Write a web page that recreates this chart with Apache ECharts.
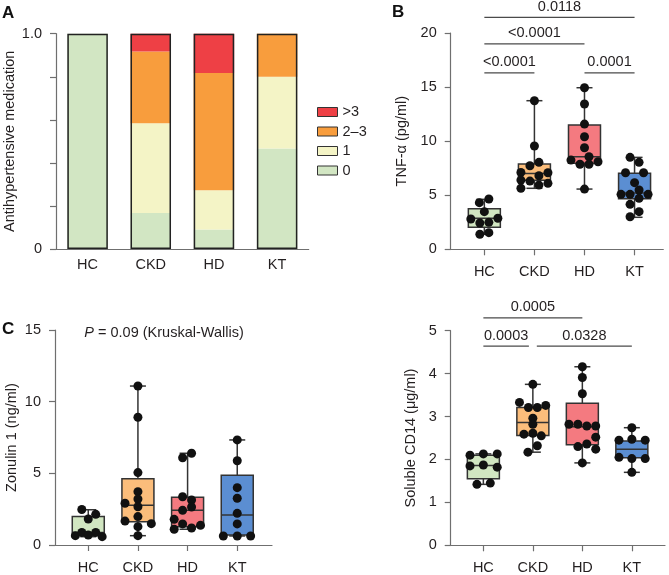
<!DOCTYPE html>
<html lang="en">
<head>
<meta charset="UTF-8">
<title>Antihypertensive medication, TNF-α, zonulin 1 and soluble CD14</title>
<script src="https://cdn.jsdelivr.net/npm/echarts@6/dist/echarts.min.js"></script>
<style>
html, body { margin: 0; padding: 0; background: #fff; }
#chart { width: 669px; height: 575px; }
</style>
</head>
<body>
<div id="chart"></div>
<script type="text/javascript">
var groups = ['HC', 'CKD', 'HD', 'KT'];
var groupTicks = [0, 1, 2, 3];

// A: share of patients by number of antihypertensive drugs
var med0 = [1.0, 0.167, 0.091, 0.467];
var med1 = [0, 0.417, 0.182, 0.333];
var med23 = [0, 0.333, 0.545, 0.2];
var med3 = [0, 0.083, 0.182, 0];
var medLegend = ['>3', '2–3', '1', '0'];

// B: TNF-alpha (pg/ml). boxes = [min, q1, median, q3, max], dots = [x offset, value]
var tnfBox = [[1.39, 2.03, 2.87, 3.75, 4.62], [5.64, 6.38, 7.02, 7.88, 13.74], [5.57, 7.95, 8.56, 11.5, 14.94], [2.96, 4.68, 5.2, 7.03, 8.5]];
var tnfHC = [[0.09, 4.65], [-0.1, 4.31], [0, 3.48], [-0.27, 2.8], [0.27, 2.87], [-0.09, 2.43], [0.09, 2.49], [-0.09, 1.39], [0.09, 1.54]];
var tnfCKD = [[0, 13.74], [0, 9.55], [-0.09, 7.73], [0.09, 8.04], [-0.27, 7.11], [0.27, 7.08], [0.09, 6.8], [-0.27, 6.4], [-0.09, 6.31], [0.27, 6.1], [0.09, 5.94], [-0.27, 5.64]];
var tnfHD = [[0, 14.94], [0, 13.43], [0, 11.58], [0, 10.41], [0, 9.39], [0.09, 8.56], [-0.27, 8.25], [0.27, 8.1], [-0.09, 7.86], [0.09, 7.86], [0, 5.57]];
var tnfKT = [[-0.09, 8.5], [0.09, 8.04], [-0.18, 7.08], [0.18, 7.08], [0, 6.16], [0.09, 5.48], [-0.27, 5.08], [-0.09, 5.08], [0.27, 5.08], [0.09, 4.71], [-0.09, 4.16], [0.09, 3.48], [-0.09, 3.01]];
var tnfPairs = [[0, 3], [0, 2], [0, 1], [2, 3]];
var tnfLevels = [21.45, 19.0, 16.32, 16.32];
var tnfP = ['0.0118', '<0.0001', '<0.0001', '0.0001'];

// C: zonulin 1 (ng/ml)
var zonBox = [[0.58, 0.66, 0.88, 1.98, 2.46], [0.65, 1.63, 2.77, 4.63, 11.09], [1.1, 1.28, 2.42, 3.33, 6.4], [0.63, 0.7, 2.09, 4.86, 7.33]];
var zonHC = [[-0.13, 2.48], [0.15, 2.14], [0, 1.81], [-0.26, 0.65], [-0.13, 0.88], [0, 0.7], [0.15, 0.88], [0.28, 0.58]];
var zonCKD = [[0, 11.09], [0, 8.91], [0, 5.05], [0, 3.72], [0, 3.21], [-0.26, 2.91], [0, 2.67], [0, 1.98], [-0.26, 1.67], [0.27, 1.49], [0, 1.28], [0, 0.65]];
var zonHD = [[0.08, 6.4], [-0.1, 6.09], [-0.1, 3.37], [0.08, 3.14], [-0.1, 2.42], [0.08, 2.65], [-0.27, 1.79], [-0.1, 1.47], [0.26, 1.37], [0.08, 1.19], [-0.27, 1.1]];
var zonKT = [[0, 7.33], [0, 5.88], [0, 4.0], [0, 3.26], [0, 2.21], [0, 1.47], [-0.28, 0.63], [0, 0.63], [0.27, 0.63]];

// D: soluble CD14 (ug/ml)
var cd14Box = [[1.42, 1.55, 1.86, 2.1, 2.13], [2.17, 2.56, 2.86, 3.21, 3.75], [1.92, 2.34, 2.76, 3.31, 4.16], [1.7, 2.04, 2.24, 2.43, 2.74]];
var cd14HC = [[-0.27, 2.1], [0, 2.13], [0.28, 2.13], [-0.27, 1.85], [0, 1.87], [0.28, 1.82], [-0.13, 1.42], [0.14, 1.45]];
var cd14CKD = [[0, 3.75], [-0.27, 3.33], [-0.09, 3.21], [0.09, 3.21], [0.26, 3.26], [0, 2.96], [0, 2.82], [-0.18, 2.59], [0, 2.61], [0.17, 2.55], [0.09, 2.32], [-0.1, 2.17]];
var cd14HD = [[0, 4.16], [0, 3.91], [0, 3.53], [-0.27, 2.82], [-0.09, 2.82], [0.09, 2.78], [0.27, 2.78], [0.27, 2.52], [-0.09, 2.3], [0.09, 2.36], [0.27, 2.24], [0, 1.92]];
var cd14KT = [[0, 2.74], [-0.26, 2.45], [0, 2.47], [0.27, 2.45], [-0.26, 2.05], [0, 2.02], [0.27, 2.02], [0, 1.7]];
var cd14Pairs = [[0, 2], [0, 0.92], [1.08, 3]];
var cd14Levels = [5.3, 4.64, 4.64];
var cd14P = ['0.0005', '0.0003', '0.0328'];

var FONT = '"Liberation Sans", Arial, Helvetica, sans-serif';
var FS = 14.5;
var AXIS_COLOR = '#6f6f6f';
var TEXT_COLOR = '#231f20';
var medColors = ['#d2e6c3', '#f4f4c6', '#f89d3d', '#ee4045'];
var boxColors = ['#d1e6c1', '#fbbd7b', '#f47a80', '#5b8ed2'];

var myChart = echarts.init(document.getElementById('chart'));

function placeDots(list) {
    var out = [];
    list.forEach(function (pts, i) {
        pts.forEach(function (p) { out.push([i + p[0], p[1]]); });
    });
    return out;
}

function boxRows(boxes) {
    return boxes.map(function (b, i) { return [i].concat(b); });
}

function pairRows(pairs, levels) {
    return pairs.map(function (p, i) { return [p[0], p[1], levels[i]]; });
}

function renderBox(params, api) {
    var x = api.value(0);
    var lo = api.coord([x, api.value(1)]);
    var q1 = api.coord([x, api.value(2)]);
    var md = api.coord([x, api.value(3)]);
    var q3 = api.coord([x, api.value(4)]);
    var hi = api.coord([x, api.value(5)]);
    var cx = md[0], hw = 16, cap = 8;
    var st = {stroke: '#333', lineWidth: 1.5};
    return {
        type: 'group',
        children: [
            {type: 'line', shape: {x1: cx, y1: hi[1], x2: cx, y2: lo[1]}, style: st},
            {type: 'line', shape: {x1: cx - cap, y1: hi[1], x2: cx + cap, y2: hi[1]}, style: st},
            {type: 'line', shape: {x1: cx - cap, y1: lo[1], x2: cx + cap, y2: lo[1]}, style: st},
            {type: 'rect', shape: {x: cx - hw, y: q3[1], width: hw * 2, height: q1[1] - q3[1]},
                style: {fill: boxColors[params.dataIndex], stroke: '#333', lineWidth: 1.5}},
            {type: 'line', shape: {x1: cx - hw, y1: md[1], x2: cx + hw, y2: md[1]}, style: st}
        ]
    };
}

function bracketRenderer(labels) {
    return function (params, api) {
        var a = api.coord([api.value(0), api.value(2)]);
        var b = api.coord([api.value(1), api.value(2)]);
        return {
            type: 'group',
            children: [
                {type: 'line', shape: {x1: a[0], y1: a[1], x2: b[0], y2: b[1]}, style: {stroke: '#4a4a4a', lineWidth: 1.2}},
                {type: 'text', style: {text: labels[params.dataIndex], x: (a[0] + b[0]) / 2, y: a[1] - 3,
                    align: 'center', verticalAlign: 'bottom', fontFamily: FONT, fontSize: FS, fill: TEXT_COLOR}}
            ]
        };
    };
}

function valueYAxis(gridIndex, max, interval, name, nameGap) {
    return {
        type: 'value', gridIndex: gridIndex, min: 0, max: max, interval: interval,
        name: name, nameLocation: 'middle', nameGap: nameGap,
        nameTextStyle: {fontFamily: FONT, fontSize: FS, color: TEXT_COLOR},
        axisLine: {show: true, onZero: false, lineStyle: {color: AXIS_COLOR, width: 1.2}},
        axisTick: {show: true, length: 6, lineStyle: {color: AXIS_COLOR, width: 1.2}},
        axisLabel: {fontFamily: FONT, fontSize: FS, color: TEXT_COLOR, margin: 14},
        splitLine: {show: false}
    };
}

function groupXAxis(gridIndex, min, max) {
    return {
        type: 'value', gridIndex: gridIndex, min: min, max: max,
        axisLine: {show: true, onZero: false, lineStyle: {color: AXIS_COLOR, width: 1.2}},
        axisTick: {show: true, length: 6, customValues: groupTicks, lineStyle: {color: AXIS_COLOR, width: 1.2}},
        axisLabel: {customValues: groupTicks, fontFamily: FONT, fontSize: FS, color: TEXT_COLOR, margin: 15,
            formatter: function (v) { return groups[Math.round(v)] || ''; }},
        splitLine: {show: false}
    };
}

function boxSeries(idx, boxes, dots, pairs, levels, labels) {
    var list = [
        {type: 'custom', xAxisIndex: idx, yAxisIndex: idx, renderItem: renderBox,
            encode: {x: 0, y: [1, 2, 3, 4, 5]}, data: boxRows(boxes), z: 2},
        {type: 'scatter', xAxisIndex: idx, yAxisIndex: idx, symbolSize: 9,
            itemStyle: {color: '#111', opacity: 1}, data: placeDots(dots), z: 3}
    ];
    if (pairs) {
        list.push({type: 'custom', xAxisIndex: idx, yAxisIndex: idx, clip: false,
            renderItem: bracketRenderer(labels), encode: {x: [0, 1], y: 2},
            data: pairRows(pairs, levels), z: 4});
    }
    return list;
}

var totals = med0.map(function (v, i) { return v + med1[i] + med23[i] + med3[i]; });

function medBar(name, data, color) {
    return {name: name, type: 'bar', stack: 'med', xAxisIndex: 0, yAxisIndex: 0,
        barWidth: 40.5, data: data, itemStyle: {color: color, borderWidth: 0}};
}

var option = {
    animation: false,
    backgroundColor: '#fff',
    textStyle: {fontFamily: FONT},
    grid: [
        {left: 56, top: 33.7, width: 252.7, height: 215.3, outerBoundsMode: 'none'},
        {left: 450.7, top: 33, width: 212.6, height: 216.3, outerBoundsMode: 'none'},
        {left: 55, top: 330, width: 217, height: 215, outerBoundsMode: 'none'},
        {left: 450.7, top: 330.7, width: 214.3, height: 214.6, outerBoundsMode: 'none'}
    ],
    legend: {
        data: medLegend, orient: 'vertical', left: 312, top: 99.5,
        itemWidth: 20, itemHeight: 9, itemGap: 4.5, icon: 'rect',
        itemStyle: {borderColor: '#333', borderWidth: 1},
        textStyle: {fontFamily: FONT, fontSize: FS, color: TEXT_COLOR}
    },
    xAxis: [
        {type: 'category', gridIndex: 0, data: groups,
            axisLine: {show: true, lineStyle: {color: AXIS_COLOR, width: 1.2}},
            axisTick: {show: false},
            axisLabel: {fontFamily: FONT, fontSize: FS, color: TEXT_COLOR, margin: 8}},
        groupXAxis(1, -0.672, 3.574),
        groupXAxis(2, -0.67, 3.7),
        groupXAxis(3, -0.66, 3.67)
    ],
    yAxis: [
        {type: 'value', gridIndex: 0, min: 0, max: 1, interval: 0.2,
            name: 'Antihypertensive medication', nameLocation: 'middle', nameGap: 39,
            nameTextStyle: {fontFamily: FONT, fontSize: FS, color: TEXT_COLOR},
            axisLine: {show: true, lineStyle: {color: AXIS_COLOR, width: 1.2}},
            axisTick: {show: true, length: 6, lineStyle: {color: AXIS_COLOR, width: 1.2}},
            axisLabel: {fontFamily: FONT, fontSize: FS, color: TEXT_COLOR, margin: 14,
                formatter: function (v) {
                    if (Math.abs(v) < 1e-6) return '0';
                    if (Math.abs(v - 1) < 1e-6) return '1.0';
                    return '';
                }},
            splitLine: {show: false}},
        valueYAxis(1, 20, 5, 'TNF-α (pg/ml)', 41),
        valueYAxis(2, 15, 5, 'Zonulin 1 (ng/ml)', 35.5),
        valueYAxis(3, 5, 1, 'Soluble CD14 (μg/ml)', 32)
    ],
    graphic: [
        {type: 'text', left: 2, top: 5, style: {text: 'A', fontFamily: FONT, fontSize: 17, fontWeight: 'bold', fill: '#111'}},
        {type: 'text', left: 392, top: 4, style: {text: 'B', fontFamily: FONT, fontSize: 17, fontWeight: 'bold', fill: '#111'}},
        {type: 'text', left: 2, top: 321, style: {text: 'C', fontFamily: FONT, fontSize: 17, fontWeight: 'bold', fill: '#111'}},
        {type: 'text', x: 164, y: 333, style: {text: '{i|P} = 0.09 (Kruskal-Wallis)', align: 'center', verticalAlign: 'middle',
            fontFamily: FONT, fontSize: FS, fill: TEXT_COLOR,
            rich: {i: {fontStyle: 'italic', fontFamily: FONT, fontSize: FS, fill: TEXT_COLOR}}}}
    ],
    series: [
        medBar('0', med0, medColors[0]),
        medBar('1', med1, medColors[1]),
        medBar('2–3', med23, medColors[2]),
        medBar('>3', med3, medColors[3]),
        {name: 'outline', type: 'bar', xAxisIndex: 0, yAxisIndex: 0, barWidth: 40.5, barGap: '-100%',
            data: totals, silent: true, z: 5,
            itemStyle: {color: 'rgba(0,0,0,0)', borderColor: '#222', borderWidth: 1.5}}
    ]
        .concat(boxSeries(1, tnfBox, [tnfHC, tnfCKD, tnfHD, tnfKT], tnfPairs, tnfLevels, tnfP))
        .concat(boxSeries(2, zonBox, [zonHC, zonCKD, zonHD, zonKT]))
        .concat(boxSeries(3, cd14Box, [cd14HC, cd14CKD, cd14HD, cd14KT], cd14Pairs, cd14Levels, cd14P))
};

myChart.setOption(option);
</script>
</body>
</html>
